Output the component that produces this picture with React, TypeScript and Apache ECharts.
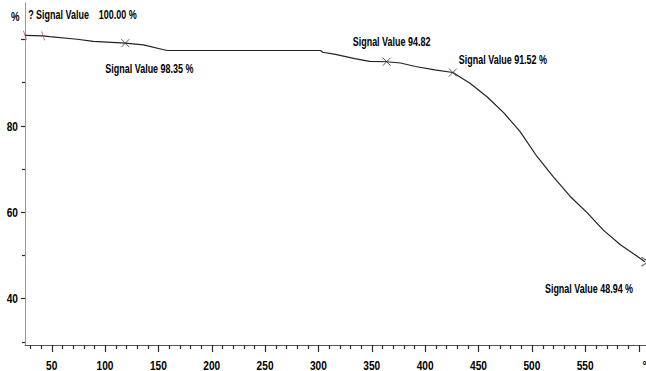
import React, { useEffect, useRef } from 'react';
import * as echarts from 'echarts';

// Temperature (°C) and residual mass (%)
const temperatures = [25, 42, 48, 74, 89, 119, 136, 158, 302, 304, 316, 334, 348, 364, 377, 391, 409, 426, 442, 458, 474, 489, 505, 520, 536, 552, 567, 583, 599, 606];
const massPercent = [100.9, 100.8, 100.6, 100.0, 99.5, 99.1, 98.7, 97.4, 97.4, 97.0, 96.5, 95.5, 94.9, 94.8, 94.5, 93.7, 92.9, 92.3, 89.8, 86.7, 82.9, 78.6, 72.8, 68.2, 63.6, 59.8, 55.8, 52.4, 49.7, 48.5];

// Annotated points
const markerTemps = [25, 42, 119, 364, 426, 606];
const markerValues = [100.9, 100.8, 99.1, 94.8, 92.3, 48.5];
const markerTexts = ['', '? Signal Value    100.00 %', 'Signal Value 98.35 %', 'Signal Value 94.82', 'Signal Value 91.52 %', 'Signal Value 48.94 %'];
const markerKinds = ['start', 'start', 'cross', 'cross', 'cross', 'arrow'];

// Axis ticks / labels
const xMajorTicks = [50, 100, 150, 200, 250, 300, 350, 400, 450, 500, 550, 600];
const xTickLabels = ['50', '100', '150', '200', '250', '300', '350', '400', '450', '500', '550', '°C'];
const xMinorTicks: number[] = [];
for (let v = 30; v <= 600; v += 10) if (v % 50 !== 0) xMinorTicks.push(v);
const yMajorTicks = [40, 60, 80, 100];
const yTickLabels = ['40', '60', '80', ''];
const yMinorTicks = [30, 50, 70, 90];

// Label placement (style only)
const labelOffsets: [number, number][] = [[0, 0], [-15, -21], [-20, 25], [-34, -20], [6, -13], [-100, 27]];

const FONT = "'Liberation Sans', Arial, sans-serif";
const X_MIN = 25, X_MAX = 607, Y_MIN = 29.2, Y_MAX = 108.4;
const TICK_COLOR = '#2a2a2a';

const symbols: Record<string, any> = {
  start: { symbol: 'path://M4,0L6,10', symbolSize: [3, 9], itemStyle: { color: 'rgba(0,0,0,0)', borderColor: '#b03030', borderWidth: 1 } },
  cross: { symbol: 'path://M0,0L10,10M10,0L0,10', symbolSize: 8, itemStyle: { color: 'rgba(0,0,0,0)', borderColor: '#333', borderWidth: 1 } },
  arrow: { symbol: 'path://M0,0L10,5L0,10', symbolSize: [7, 9], itemStyle: { color: 'rgba(0,0,0,0)', borderColor: '#333', borderWidth: 1 } },
};

const crisp = (v: number) => Math.round(v) + 0.5;
const vTick = (x: number, y: number, len: number) => ({
  type: 'polyline', shape: { points: [[crisp(x), y], [crisp(x), y + len]] }, style: { stroke: TICK_COLOR, lineWidth: 1.2, fill: null },
});
const hTick = (x: number, y: number, len: number) => ({
  type: 'polyline', shape: { points: [[x - len, crisp(y)], [x, crisp(y)]] }, style: { stroke: TICK_COLOR, lineWidth: 1.2, fill: null },
});

export default function App() {
  const ref = useRef<HTMLDivElement>(null);
  useEffect(() => {
    document.body.style.margin = '0';
    if (!ref.current) return;
    const chart = echarts.init(ref.current, undefined, { renderer: 'svg' });

    const markerData = markerTemps.map((t, i) => ({ value: [t, markerValues[i]], ...symbols[markerKinds[i]] }));

    const axisBase = {
      type: 'value',
      splitLine: { show: false },
      axisTick: { show: false },
      axisLabel: { show: false },
    };

    chart.setOption({
      animation: false,
      grid: { left: 25, right: 0, top: 3, bottom: 26, containLabel: false },
      xAxis: { ...axisBase, min: X_MIN, max: X_MAX, axisLine: { show: true, lineStyle: { color: '#555', width: 1 } } },
      yAxis: { ...axisBase, min: Y_MIN, max: Y_MAX, axisLine: { show: true, lineStyle: { color: '#999', width: 1 } } },
      graphic: [
        { type: 'text', left: 11, top: 11, style: { text: '%', fill: '#000', font: `bold 12px ${FONT}` }, scaleX: 0.8 },
      ],
      series: [
        {
          type: 'line',
          data: temperatures.map((t, i) => [t, massPercent[i]]),
          showSymbol: false, smooth: false, clip: false,
          lineStyle: { color: '#222', width: 1.2 },
        },
        { type: 'scatter', z: 5, clip: false, data: markerData },
        // annotation texts
        {
          type: 'custom', clip: false, z: 6,
          data: markerTemps.map((t, i) => [t, markerValues[i]]),
          renderItem: (params: any, api: any) => {
            const i = params.dataIndex;
            if (!markerTexts[i]) return null;
            const p = api.coord([api.value(0), api.value(1)]);
            return {
              type: 'text', x: p[0] + labelOffsets[i][0], y: p[1] + labelOffsets[i][1], scaleX: 0.69,
              style: { text: markerTexts[i], fill: '#000', font: `bold 13px ${FONT}`, align: 'left', verticalAlign: 'middle' },
            };
          },
        },
        // x axis: ticks and labels
        {
          type: 'custom', clip: false, z: 10,
          data: xMajorTicks.map((v) => [v, Y_MIN]),
          renderItem: (params: any, api: any) => {
            const i = params.dataIndex;
            const p = api.coord([api.value(0), Y_MIN]);
            const isUnit = xTickLabels[i] === '°C';
            return {
              type: 'group',
              children: [
                vTick(p[0], p[1], 7),
                {
                  type: 'text', x: p[0] + (isUnit ? 4 : 0), y: p[1] + 20, scaleX: 0.78,
                  style: { text: xTickLabels[i], fill: '#000', font: `bold 13px ${FONT}`, align: isUnit ? 'left' : 'center', verticalAlign: 'middle' },
                },
              ],
            };
          },
        },
        {
          type: 'custom', clip: false, z: 10,
          data: xMinorTicks.map((v) => [v, Y_MIN]),
          renderItem: (params: any, api: any) => {
            const p = api.coord([api.value(0), Y_MIN]);
            return vTick(p[0], p[1], 4);
          },
        },
        // y axis: ticks and labels
        {
          type: 'custom', clip: false, z: 10,
          data: yMajorTicks.map((v) => [X_MIN, v]),
          renderItem: (params: any, api: any) => {
            const i = params.dataIndex;
            const p = api.coord([X_MIN, api.value(1)]);
            return {
              type: 'group',
              children: [
                hTick(p[0], p[1], 4),
                {
                  type: 'text', x: p[0] - 7, y: p[1], scaleX: 0.78,
                  style: { text: yTickLabels[i], fill: '#000', font: `bold 13px ${FONT}`, align: 'right', verticalAlign: 'middle' },
                },
              ],
            };
          },
        },
        {
          type: 'custom', clip: false, z: 10,
          data: yMinorTicks.map((v) => [X_MIN, v]),
          renderItem: (params: any, api: any) => {
            const p = api.coord([X_MIN, api.value(1)]);
            return hTick(p[0], p[1], 3);
          },
        },
      ],
    });
    return () => chart.dispose();
  }, []);
  return <div ref={ref} style={{ width: 646, height: 371 }} />;
}
